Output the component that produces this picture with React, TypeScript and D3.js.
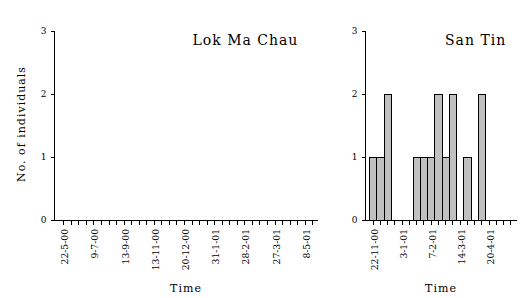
import React from 'react';
import * as d3 from 'd3';

// Lok Ma Chau: 34 sampling dates, only every 4th labelled
const lmcLabels = [
  '22-5-00', '', '', '', '9-7-00', '', '', '', '13-9-00', '', '', '',
  '13-11-00', '', '', '', '20-12-00', '', '', '', '31-1-01', '', '', '',
  '28-2-01', '', '', '', '27-3-01', '', '', '', '8-5-01', '',
];
const lmcValues = [
  0, 0, 0, 0, 0, 0, 0, 0, 0, 0, 0, 0, 0, 0, 0, 0, 0,
  0, 0, 0, 0, 0, 0, 0, 0, 0, 0, 0, 0, 0, 0, 0, 0, 0,
];

// San Tin: 20 sampling dates
const stLabels = [
  '22-11-00', '', '', '', '3-1-01', '', '', '', '7-2-01', '', '', '',
  '14-3-01', '', '', '', '20-4-01', '', '', '',
];
const stValues = [1, 1, 2, 0, 0, 0, 1, 1, 1, 2, 1, 2, 0, 1, 0, 2, 0, 0, 0, 0];

const yTicks = [0, 1, 2, 3];

const FONT = '"DejaVu Serif", serif';

type PanelProps = {
  title: string;
  titleX: number;
  labels: string[];
  values: number[];
  axisX0: number;
  axisX1: number;
  bandX0: number;
  bandX1: number;
  showYTitle: boolean;
};

function Panel({ title, titleX, labels, values, axisX0, axisX1, bandX0, bandX1, showYTitle }: PanelProps) {
  const y = d3.scaleLinear().domain([0, 3]).range([219.5, 30.5]);
  const x = d3
    .scaleBand<number>()
    .domain(labels.map((_, i) => i))
    .range([bandX0, bandX1])
    .paddingInner(0)
    .paddingOuter(0);
  const bw = x.bandwidth();
  const y0 = y(0);
  const ax = Math.round(axisX0) + 0.5;
  return (
    <g>
      {/* bars */}
      {values.map((v, i) =>
        v > 0 ? (
          <rect
            key={i}
            x={Math.round(x(i) as number) + 0.5}
            y={Math.round(y(v)) + 0.5}
            width={Math.round((x(i) as number) + bw) - Math.round(x(i) as number)}
            height={Math.round(y0) - Math.round(y(v))}
            fill="#c0c0c0"
            stroke="#000"
            strokeWidth={1}
          />
        ) : null
      )}
      {/* y axis */}
      <line x1={ax} x2={ax} y1={Math.round(y(3)) + 0.5} y2={Math.round(y0) + 0.5} stroke="#000" />
      {yTicks.map((t) => (
        <g key={t}>
          <line x1={ax - 4} x2={ax} y1={Math.round(y(t)) + 0.5} y2={Math.round(y(t)) + 0.5} stroke="#000" />
          <text
            x={ax - 8}
            y={y(t)}
            dy="0.35em"
            textAnchor="end"
            fontFamily={FONT}
            fontSize={9}
            fill="#000"
          >
            {t}
          </text>
        </g>
      ))}
      {/* x axis */}
      <line x1={ax - 1} x2={axisX1} y1={Math.round(y0) + 0.5} y2={Math.round(y0) + 0.5} stroke="#000" />
      {labels.map((lab, i) => {
        const cx = Math.round((x(i) as number) + bw / 2) + 0.5;
        return (
          <g key={i}>
            <line x1={cx} x2={cx} y1={Math.round(y0) + 0.5} y2={Math.round(y0) + 4.5} stroke="#000" />
            {lab ? (
              <text
                transform={`translate(${cx + 1},229) rotate(-90)`}
                dy="0.35em"
                textAnchor="end"
                fontFamily={FONT}
                fontSize={9.2}
                fill="#000"
              >
                {lab}
              </text>
            ) : null}
          </g>
        );
      })}
      {/* titles */}
      <text x={titleX} y={45} fontFamily={FONT} fontSize={14} letterSpacing={1} fill="#000">
        {title}
      </text>
      <text
        x={(axisX0 + axisX1) / 2}
        y={292}
        textAnchor="middle"
        fontFamily={FONT}
        fontSize={11}
        letterSpacing={1}
        fill="#000"
      >
        Time
      </text>
      {showYTitle ? (
        <text
          transform="translate(25,124) rotate(-90)"
          textAnchor="middle"
          fontFamily={FONT}
          fontSize={11}
          letterSpacing={1}
          fill="#000"
        >
          No. of individuals
        </text>
      ) : null}
    </g>
  );
}

export default function App() {
  return (
    <svg
      width={531}
      height={298}
      style={{ position: 'absolute', left: 0, top: 0, background: '#fff' }}
      shapeRendering="crispEdges"
    >
      <rect x={0} y={0} width={531} height={298} fill="#fff" />
      <Panel
        title="Lok Ma Chau"
        titleX={192.5}
        labels={lmcLabels}
        values={lmcValues}
        axisX0={54}
        axisX1={318}
        bandX0={59.5}
        bandX1={316}
        showYTitle={true}
      />
      <Panel
        title="San Tin"
        titleX={445}
        labels={stLabels}
        values={stValues}
        axisX0={365}
        axisX1={517}
        bandX0={369}
        bandX1={514}
        showYTitle={false}
      />
    </svg>
  );
}
